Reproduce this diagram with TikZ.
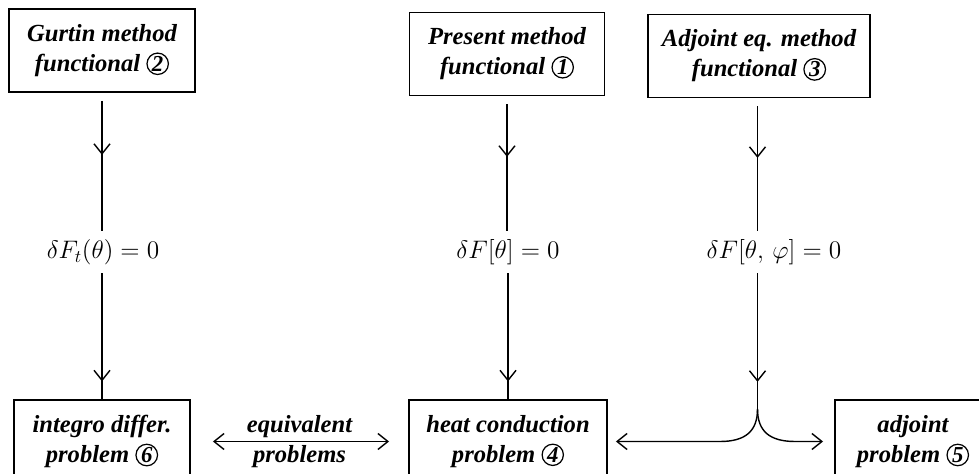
\documentclass[tikz,border=0pt]{standalone}
\usepackage{fontspec}
\setmainfont{Liberation Serif}
\usetikzlibrary{arrows.meta,decorations.markings}
\newcommand{\cnum}[1]{\tikz[baseline=(c.base)]\node[draw,circle,line width=0.7pt,inner sep=0.5pt,minimum size=0.36cm,font=\bfseries\itshape\fontsize{13}{13}\selectfont] (c) {#1};}
\tikzset{
  box/.style={draw,line width=1.1pt,minimum height=1.66cm,inner sep=0pt,align=center,font=\bfseries\itshape\fontsize{14}{17}\selectfont},
  cond/.style={minimum height=0.84cm,inner sep=0pt,font=\fontsize{14}{17}\selectfont},
  flow/.style={line width=0.8pt},
  barb/.style={flow,{Straight Barb[length=2mm,width=3.2mm]}-{Straight Barb[length=2mm,width=3.2mm]}},
  midarr/.style={flow,postaction={decorate},decoration={markings,mark=at position #1 with {\arrow{Straight Barb[length=2mm,width=3.2mm]}}}}
}
\begin{document}
\begin{tikzpicture}
\useasboundingbox (0,0) rectangle (19.58,9.48);
\clip (0,0) rectangle (19.58,9.48);
\node[box,minimum width=3.72cm] (gurtin) at (2.04,8.47) {Gurtin method\\functional \cnum{2}};
\node[box,minimum width=3.9cm] (present) at (10.14,8.40) {Present method\\functional \cnum{1}};
\node[box,minimum width=4.44cm] (adjfun) at (15.18,8.36) {Adjoint eq. method\\functional \cnum{3}};
\node[cond] (lg) at (2.06,4.44) {$\delta F_t(\theta)=0$};
\node[cond] (lp) at (10.16,4.44) {$\delta F[\theta]=0$};
\node[cond] (la) at (15.48,4.44) {$\delta F[\theta,\,\varphi]=0$};
\node[box,minimum width=3.52cm] (integro) at (2.04,0.65) {integro differ.\\problem \cnum{6}};
\node[box,minimum width=3.96cm] (heat) at (10.16,0.65) {heat conduction\\problem \cnum{4}};
\node[box,minimum width=3.12cm] (adjprob) at (18.26,0.65) {adjoint\\problem \cnum{5}};
\coordinate (fork) at (15.15,1.3);
\draw[midarr=0.45,shorten <=0.16cm] (gurtin) -- (gurtin |- lg.north);
\draw[midarr=0.45,shorten <=0.16cm] (present) -- (present |- lp.north);
\draw[midarr=0.45,shorten <=0.16cm] (adjfun.south -| fork) -- (fork |- la.north);
\draw[midarr=0.86] (lg.south -| integro) -- (integro);
\draw[midarr=0.86] (lp.south -| heat) -- (heat);
\draw[midarr=0.8] (fork |- la.south) -- (fork);
\draw[flow,-{Straight Barb[length=2mm,width=3.2mm]},shorten >=0.16cm] (fork) .. controls ([yshift=-0.45cm]fork) and ([xshift=-0.25cm]fork |- heat) .. ([xshift=-0.75cm]fork |- heat) -- (heat);
\draw[flow,-{Straight Barb[length=2mm,width=3.2mm]},shorten >=0.22cm] (fork) .. controls ([yshift=-0.45cm]fork) and ([xshift=0.25cm]fork |- adjprob) .. ([xshift=0.75cm]fork |- adjprob) -- (adjprob);
\draw[barb,shorten <=0.44cm,shorten >=0.38cm] (integro) -- (heat)
  node[midway,above,inner sep=2pt,font=\bfseries\itshape\fontsize{14}{17}\selectfont] {equivalent}
  node[midway,below,inner sep=2pt,font=\bfseries\itshape\fontsize{14}{17}\selectfont] {problems};
\end{tikzpicture}
\end{document}
